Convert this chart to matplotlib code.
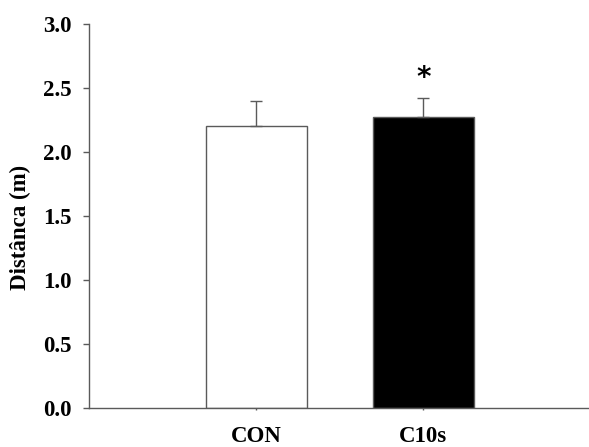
import matplotlib
matplotlib.use("Agg")
import matplotlib.pyplot as plt

# data
groups = ["CON", "C10s"]
means = [2.20, 2.27]
sem_upper = [0.20, 0.15]
bar_colors = ["white", "black"]
y_ticks = [0.0, 0.5, 1.0, 1.5, 2.0, 2.5, 3.0]

plt.rcParams["font.family"] = ["Liberation Serif", "DejaVu Serif"]
plt.rcParams["font.weight"] = "bold"

fig = plt.figure(figsize=(5.89, 4.47), dpi=100)
ax = fig.add_axes([0.151, 0.0872, 0.847, 0.859])

x = list(range(len(groups)))
line_col = "#5a5a5a"
ax.bar(x, means, width=0.605, color=bar_colors, edgecolor=line_col, linewidth=1.0, zorder=2)
ax.errorbar(x, means, yerr=[[0, 0], sem_upper], fmt="none", ecolor=line_col,
            elinewidth=1.0, capsize=4, capthick=1.0, zorder=3)

# significance marker above C10s
ax.text(x[1], means[1] + sem_upper[1] + 0.16, "*", ha="center", va="center",
        fontsize=20, fontweight="bold", family="DejaVu Sans")

ax.set_xlim(-1.003, 1.985)
ax.set_ylim(0, 3.0)
ax.set_yticks(y_ticks)
ax.set_yticklabels([f"{v:.1f}" for v in y_ticks])
ax.set_xticks(x)
ax.set_xticklabels(groups)

ax.spines["top"].set_visible(False)
ax.spines["right"].set_visible(False)
for s in ("left", "bottom"):
    ax.spines[s].set_color(line_col)
    ax.spines[s].set_linewidth(1.0)

ax.tick_params(axis="y", direction="out", length=4.3, width=1.0, color=line_col,
               labelsize=16.5, pad=8)
ax.tick_params(axis="x", direction="out", length=1.5, width=1.0, color=line_col,
               labelsize=16.5, pad=11.5)

ax.set_ylabel("Distânca (m)", fontsize=16.5, fontweight="bold")
ax.yaxis.set_label_coords(-0.116, 0.47)

fig.savefig("out.png", dpi=100)
